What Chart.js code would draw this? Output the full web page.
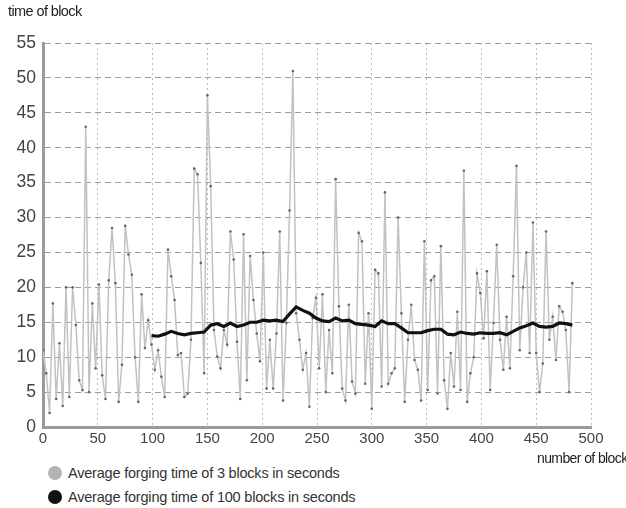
<!DOCTYPE html>
<html><head><meta charset="utf-8">
<script src="https://cdn.jsdelivr.net/npm/chart.js@4.4.1/dist/chart.umd.min.js"></script>
<style>
html,body{margin:0;padding:0;background:#fff;width:626px;height:508px;overflow:hidden;}
#wrap{position:relative;width:626px;height:508px;overflow:hidden;font-family:"Liberation Sans",Arial,sans-serif;}
#box{position:absolute;left:0;top:0;width:626px;height:462px;}
.ytitle{position:absolute;left:8px;top:3px;font-size:14.5px;color:#222;letter-spacing:-0.6px;}
.xtitle{position:absolute;left:537px;top:450px;font-size:14px;color:#222;white-space:nowrap;letter-spacing:-0.6px;}
.leg{position:absolute;left:48px;height:16px;font-size:14.5px;color:#333;white-space:nowrap;display:flex;align-items:center;letter-spacing:-0.2px;}
.dot{width:14px;height:14px;border-radius:50%;margin-right:6px;}
</style></head>
<body>
<div id="wrap">
  <div id="box"><canvas id="c"></canvas></div>
  <div class="ytitle">time of block</div>
  <div class="xtitle">number of blocks</div>
  <div class="leg" style="top:465px"><span class="dot" style="background:#b4b4b4"></span>Average forging time of 3 blocks in seconds</div>
  <div class="leg" style="top:489px"><span class="dot" style="background:#111"></span>Average forging time of 100 blocks in seconds</div>
</div>
<script>
// tick labels / axis ranges
const yTicks = [0,5,10,15,20,25,30,35,40,45,50,55];
const xTicks = [0,50,100,150,200,250,300,350,400,450,500];

// Average forging time of 3 blocks (one value every 3 blocks, starting at block 0)
const avg3Step = 3;
const avg3 = [
 11,7.7,2,17.7,4,12,3,20,4.3,20,
 14.6,6.7,5.3,43,5,17.7,8.4,20.4,7.4,4,
 21,28.5,20.6,3.6,8.9,28.8,24.7,21.8,10,3.6,
 19,11.3,15.3,11.8,8.2,11,7.2,4.3,25.4,21.6,
 18.2,10.3,10.6,4.3,4.8,12.5,37,36.2,23.5,7.7,
 47.5,34.5,13.9,10.1,8.4,13.9,11.8,28,24,12.2,
 4,27.6,6.7,24.5,18.2,13.4,9.4,25,5.5,12.5,
 5.5,13.4,28,3.8,14.9,31,51,16.3,12.5,8.2,
 10.6,2.9,15.6,18.5,8.4,19,5,13.9,7.7,35.5,
 17.3,5.5,3.8,17.5,6.5,4.8,27.8,26.6,6.2,16.3,
 2.6,22.5,22,5.8,33.6,6.2,7.7,8.4,30,16.3,
 3.6,12.5,17.5,9.6,8.2,3.8,26.6,5.3,21,21.6,
 4.8,25.9,6.7,2.6,10.6,5.8,16.5,5.3,36.7,3.6,
 7.7,10,22,19.2,12.7,22.3,5.3,14.9,26.1,12.5,
 8.2,15.8,8.4,21.6,37.4,11,20,25,10.6,29.3,
 10.6,5,9.1,28,12.5,15.8,9.6,17.3,16.5,13.9,
 5,20.6
];

// Average forging time of 100 blocks (one value every 6 blocks, starting at block 99)
const avg100Start = 99;
const avg100Step = 6;
const avg100 = [
 13.1,13.0,13.3,13.7,13.4,13.2,13.4,13.5,13.6,14.6,
 14.8,14.4,14.9,14.4,14.6,15.0,15.0,15.3,15.2,15.3,
 15.1,16.2,17.2,16.7,16.3,15.6,15.2,15.1,15.6,15.2,
 15.3,14.8,14.7,14.6,14.4,15.2,14.8,14.8,14.2,13.5,
 13.5,13.5,13.8,14.0,14.0,13.3,13.2,13.6,13.4,13.3,
 13.5,13.4,13.4,13.5,13.2,13.7,14.2,14.5,14.9,14.4,
 14.3,14.4,14.9,14.8,14.6
];

const pts3 = avg3.map((v,i)=>({x:i*avg3Step, y:v}));
const pts100 = avg100.map((v,i)=>({x:avg100Start + i*avg100Step, y:v}));

new Chart(document.getElementById('c'), {
  type:'line',
  data:{datasets:[
    {label:'Average forging time of 3 blocks in seconds', data:pts3, order:1,
     borderColor:'#c2c2c2', borderWidth:1.5, pointRadius:1.3, pointBackgroundColor:'#666',
     pointBorderWidth:0, tension:0},
    {label:'Average forging time of 100 blocks in seconds', data:pts100, order:0,
     borderColor:'#111', borderWidth:3.2, pointRadius:0, tension:0}
  ]},
  options:{
    responsive:true, maintainAspectRatio:false, animation:false,
    layout:{padding:{top:43,right:35,left:0,bottom:0}},
    plugins:{legend:{display:false}, tooltip:{enabled:false}},
    scales:{
      x:{type:'linear', min:xTicks[0], max:xTicks[xTicks.length-1],
         afterBuildTicks:s=>{s.ticks = xTicks.map(v=>({value:v}));},
         afterFit:s=>{s.height = 35;},
         grid:{color:'#bdbdbd', lineWidth:1, drawTicks:false},
         border:{display:true, color:'#9a9a9a', width:3, dash:[2,3]},
         ticks:{padding:3, color:'#444', font:{family:'"Liberation Sans", Arial, sans-serif', size:15}, maxRotation:0, autoSkip:false}},
      y:{min:yTicks[0], max:yTicks[yTicks.length-1],
         afterBuildTicks:s=>{s.ticks = yTicks.map(v=>({value:v}));},
         afterFit:s=>{s.width = 43;},
         grid:{color:'#9c9c9c', lineWidth:1, drawTicks:false},
         border:{display:true, color:'#9a9a9a', width:3, dash:[6,4]},
         ticks:{padding:7, color:'#444', font:{family:'"Liberation Sans", Arial, sans-serif', size:17.5}, autoSkip:false}}
    }
  }
});
</script>
</body></html>
